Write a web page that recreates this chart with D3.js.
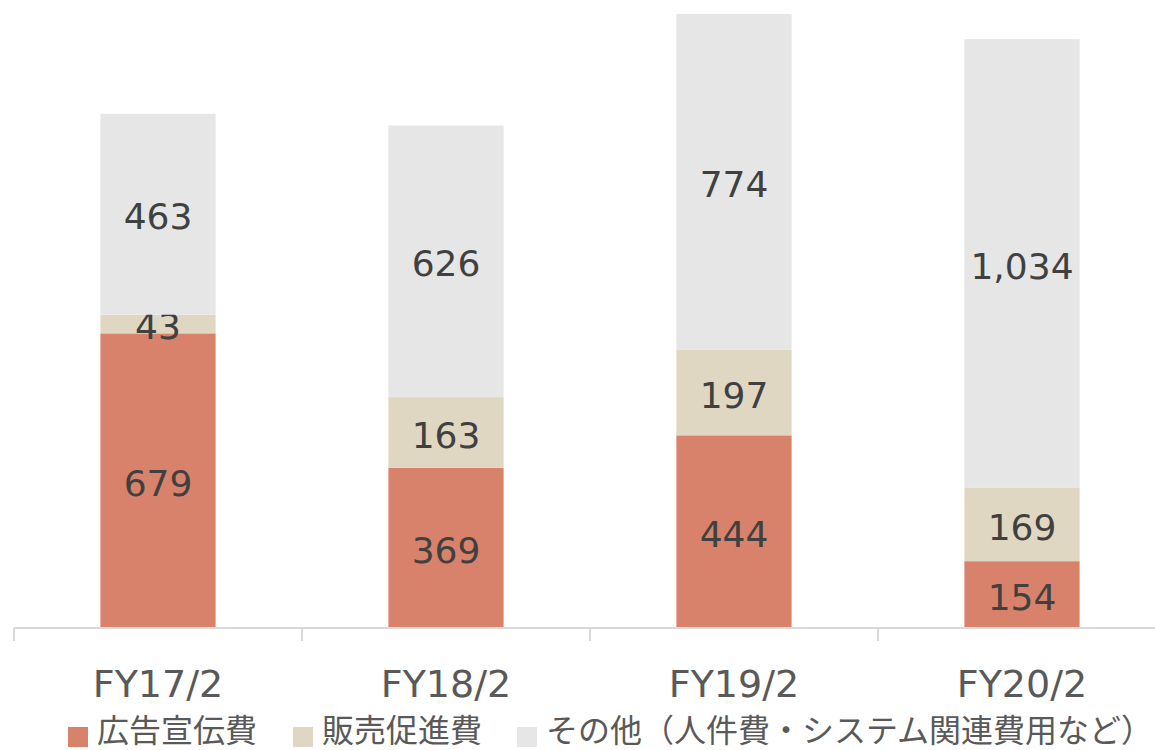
<!DOCTYPE html>
<html>
<head>
<meta charset="utf-8">
<script src="https://cdn.jsdelivr.net/npm/d3@7"></script>
<style>
  body { margin: 0; background: #fff; }
  svg { display: block; font-family: "DejaVu Sans", "Noto Sans CJK JP", sans-serif; }
</style>
</head>
<body>
<div id="chart"></div>
<script>
// chart data
const categories = ["FY17/2", "FY18/2", "FY19/2", "FY20/2"];
const seriesNames = ["広告宣伝費", "販売促進費", "その他（人件費・システム関連費用など）"];
const advertising = [679, 369, 444, 154];
const promotion = [43, 163, 197, 169];
const other = [463, 626, 774, 1034];
const colors = ["#D9826B", "#E0D7C2", "#E6E6E6"];

const width = 1155, height = 750;

const svg = d3.select("#chart")
    .append("svg")
    .attr("width", width)
    .attr("height", height);

// build rows for stacking
const rows = categories.map((c, i) => ({
    cat: c, a: advertising[i], p: promotion[i], o: other[i]
}));
const series = d3.stack().keys(["a", "p", "o"])(rows);

// scales
const x = d3.scaleBand()
    .domain(categories)
    .range([14, 1166])
    .paddingInner(0.6)
    .paddingOuter(0.3);

const y = d3.scaleLinear()
    .domain([0, 1415])
    .range([628, 14]);

// bars
const groups = svg.selectAll(".series")
    .data(series)
    .enter()
    .append("g")
    .attr("class", "series")
    .attr("fill", (d, i) => colors[i]);

groups.selectAll("rect")
    .data(d => d)
    .enter()
    .append("rect")
    .attr("x", d => x(d.data.cat))
    .attr("width", x.bandwidth())
    .attr("y", d => y(d[1]))
    .attr("height", d => y(d[0]) - y(d[1]));

// value labels
const fmt = d3.format(",");
groups.selectAll("text")
    .data(d => d)
    .enter()
    .append("text")
    .attr("x", d => x(d.data.cat) + x.bandwidth() / 2)
    .attr("y", d => (y(d[0]) + y(d[1])) / 2 + 15)
    .attr("text-anchor", "middle")
    .attr("font-size", "36px")
    .attr("fill", "#404040")
    .text(d => fmt(d[1] - d[0]));

// x axis: baseline and dividing ticks
const axis = svg.append("g").attr("class", "x-axis");
axis.append("line")
    .attr("x1", 14)
    .attr("x2", width)
    .attr("y1", 628)
    .attr("y2", 628)
    .attr("stroke", "#D9D9D9")
    .attr("stroke-width", 2);

// tick marks sit between the categories
const tickPos = categories.map(c => x(c) - x.step() * x.paddingOuter());
axis.selectAll(".tick")
    .data(tickPos)
    .enter()
    .append("line")
    .attr("class", "tick")
    .attr("x1", d => d)
    .attr("x2", d => d)
    .attr("y1", 628)
    .attr("y2", 641)
    .attr("stroke", "#D9D9D9")
    .attr("stroke-width", 2);

axis.selectAll(".cat-label")
    .data(categories)
    .enter()
    .append("text")
    .attr("class", "cat-label")
    .attr("x", d => x(d) + x.bandwidth() / 2)
    .attr("y", 697)
    .attr("text-anchor", "middle")
    .attr("font-size", "38px")
    .attr("fill", "#595959")
    .text(d => d);

// legend
const legend = svg.append("g").attr("class", "legend");
const legendX = [68, 293, 517];
seriesNames.forEach((name, i) => {
    const g = legend.append("g").attr("transform", `translate(${legendX[i]},727)`);
    g.append("rect")
        .attr("width", 20)
        .attr("height", 20)
        .attr("fill", colors[i]);
    g.append("text")
        .attr("x", 29)
        .attr("y", 15)
        .attr("font-family", "'Noto Sans CJK JP', sans-serif")
        .attr("font-size", "32px")
        .attr("fill", "#595959")
        .text(name);
});
</script>
</body>
</html>
